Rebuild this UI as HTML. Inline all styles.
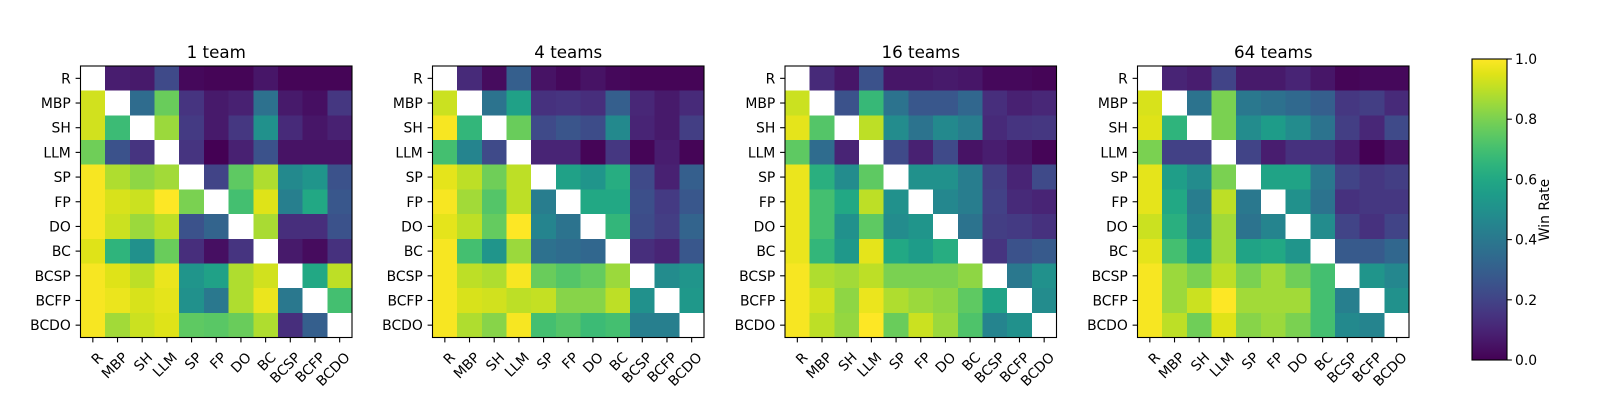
<!DOCTYPE html>
<html><head><meta charset="utf-8"><style>
html,body{margin:0;padding:0;background:#fff;}
svg{display:block;font-family:"DejaVu Sans","Liberation Sans",sans-serif;}
</style></head><body>
<svg id="fig" width="1600" height="400" viewBox="0 0 1600 400">
<defs><linearGradient id="cbgrad" x1="0" y1="1" x2="0" y2="0"></linearGradient></defs>
</svg>
<script>
const labels = ["R","MBP","SH","LLM","SP","FP","DO","BC","BCSP","BCFP","BCDO"];
const titles = ["1 team","4 teams","16 teams","64 teams"];
const cbTicks = [0.0,0.2,0.4,0.6,0.8,1.0];
const team1 = [
[null,0.08,0.07,0.22,0.02,0.01,0.01,0.06,0.01,0.01,0.01],
[0.93,null,0.35,0.77,0.15,0.07,0.09,0.37,0.07,0.04,0.16],
[0.93,0.68,null,0.85,0.17,0.07,0.16,0.50,0.12,0.06,0.09],
[0.78,0.25,0.15,null,0.15,0.00,0.09,0.25,0.05,0.05,0.05],
[0.99,0.88,0.83,0.86,null,0.20,0.75,0.88,0.47,0.52,0.25],
[0.99,0.94,0.92,1.00,0.80,null,0.70,0.95,0.43,0.60,0.27],
[0.99,0.92,0.85,0.90,0.25,0.32,null,0.87,0.13,0.13,0.25],
[0.95,0.65,0.50,0.77,0.13,0.04,0.15,null,0.07,0.03,0.14],
[0.99,0.95,0.90,0.97,0.52,0.57,0.88,0.93,null,0.60,0.90],
[0.99,0.97,0.94,0.96,0.50,0.40,0.88,0.97,0.40,null,0.70],
[0.99,0.86,0.92,0.95,0.75,0.74,0.77,0.88,0.13,0.30,null]];
const team4 = [
[null,0.12,0.03,0.30,0.05,0.02,0.05,0.02,0.01,0.01,0.01],
[0.92,null,0.38,0.57,0.14,0.15,0.13,0.30,0.11,0.07,0.12],
[0.99,0.66,null,0.77,0.22,0.26,0.23,0.47,0.10,0.07,0.18],
[0.70,0.45,0.22,null,0.10,0.10,0.01,0.16,0.01,0.08,0.01],
[0.96,0.90,0.78,0.90,null,0.57,0.52,0.62,0.22,0.09,0.30],
[0.99,0.86,0.73,0.90,0.42,null,0.60,0.60,0.24,0.17,0.27],
[0.96,0.90,0.76,1.00,0.45,0.38,null,0.66,0.23,0.18,0.32],
[0.99,0.70,0.52,0.85,0.37,0.35,0.33,null,0.13,0.10,0.27],
[0.99,0.90,0.88,0.99,0.77,0.73,0.76,0.85,null,0.48,0.52],
[0.99,0.94,0.93,0.90,0.91,0.82,0.82,0.90,0.50,null,0.53],
[0.99,0.88,0.82,0.99,0.70,0.73,0.68,0.70,0.43,0.43,null]];
const team16 = [
[null,0.12,0.06,0.25,0.06,0.06,0.07,0.06,0.02,0.02,0.01],
[0.92,null,0.25,0.67,0.38,0.27,0.27,0.33,0.13,0.09,0.11],
[0.96,0.73,null,0.90,0.48,0.38,0.47,0.42,0.12,0.15,0.16],
[0.75,0.35,0.10,null,0.22,0.09,0.22,0.05,0.08,0.05,0.01],
[0.97,0.63,0.48,0.75,null,0.50,0.50,0.42,0.18,0.10,0.22],
[0.97,0.70,0.60,0.90,0.50,null,0.46,0.42,0.19,0.12,0.10],
[0.97,0.70,0.50,0.75,0.48,0.52,null,0.38,0.18,0.17,0.14],
[0.97,0.66,0.53,0.96,0.60,0.55,0.62,null,0.15,0.25,0.28],
[0.99,0.88,0.86,0.90,0.80,0.80,0.80,0.83,null,0.40,0.50],
[0.99,0.93,0.83,0.97,0.88,0.85,0.83,0.75,0.58,null,0.48],
[0.99,0.90,0.84,1.00,0.77,0.92,0.85,0.72,0.45,0.50,null]];
const team64 = [
[null,0.10,0.08,0.20,0.07,0.07,0.10,0.06,0.01,0.02,0.02],
[0.94,null,0.38,0.80,0.40,0.37,0.34,0.30,0.16,0.18,0.12],
[0.95,0.65,null,0.80,0.48,0.55,0.48,0.38,0.18,0.11,0.22],
[0.80,0.19,0.19,null,0.20,0.08,0.14,0.14,0.08,0.00,0.05],
[0.96,0.56,0.48,0.80,null,0.58,0.58,0.40,0.20,0.16,0.18],
[0.96,0.60,0.42,0.90,0.40,null,0.50,0.38,0.14,0.16,0.16],
[0.92,0.63,0.45,0.86,0.38,0.45,null,0.48,0.20,0.14,0.20],
[0.96,0.70,0.55,0.86,0.58,0.60,0.52,null,0.28,0.28,0.33],
[0.99,0.85,0.80,0.90,0.80,0.86,0.78,0.70,null,0.52,0.46],
[0.99,0.85,0.92,1.00,0.86,0.86,0.86,0.70,0.43,null,0.50],
[0.99,0.90,0.78,0.95,0.82,0.85,0.80,0.70,0.47,0.45,null]];
const panels = [team1, team4, team16, team64];

const VIR = ["#440154","#471365","#482475","#463480","#414487","#3b528b","#355f8d","#2f6c8e","#2a788e","#25848e","#21918c","#1e9c89","#22a884","#2fb47c","#44bf70","#5ec962","#7ad151","#9bd93c","#bddf26","#dfe318","#fde725"];
function hex(h){return [parseInt(h.substr(1,2),16),parseInt(h.substr(3,2),16),parseInt(h.substr(5,2),16)];}
function viridis(v){
  v=Math.max(0,Math.min(1,v));
  const p=v*(VIR.length-1), i=Math.min(Math.floor(p),VIR.length-2), f=p-i;
  const a=hex(VIR[i]), b=hex(VIR[i+1]);
  return "rgb("+a.map((c,k)=>Math.round(c+(b[k]-c)*f)).join(",")+")";
}
const NS="http://www.w3.org/2000/svg";
const svg=document.getElementById("fig");
function mk(tag,attrs,parent){const e=document.createElementNS(NS,tag);for(const k in attrs)e.setAttribute(k,attrs[k]);(parent||svg).appendChild(e);return e;}

const panelLeft=[80.5,432.5,785,1137.5];
const top0=66, size=271.5, n=labels.length, cell=size/n;
function xScale(p,j){return panelLeft[p]+j*cell;}
function yScale(i){return top0+i*cell;}

panels.forEach((data,p)=>{
  const g=mk("g",{});
  
  
  data.forEach((row,i)=>row.forEach((v,j)=>{
    const r=mk("rect",{x:xScale(p,j),y:yScale(i),width:cell+0.3,height:cell+0.3,fill:v===null?"#ffffff":viridis(v),"shape-rendering":"crispEdges"},g);
    
    
  }));
  const L=panelLeft[p];
  const fr=mk("rect",{x:L,y:top0,width:size,height:size,fill:"none",stroke:"#000","stroke-width":1.1},g);
  
  
  const t=mk("text",{x:L+size/2,y:top0-8,"text-anchor":"middle","font-size":16.7},g);
  t.textContent=titles[p];
  
  
  labels.forEach((lab,k)=>{
    const cy=yScale(k)+cell/2, cx=xScale(p,k)+cell/2;
    mk("line",{x1:L,x2:L-4.9,y1:cy,y2:cy,stroke:"#000","stroke-width":1.1},g);
    mk("line",{x1:cx,x2:cx,y1:top0+size,y2:top0+size+4.9,stroke:"#000","stroke-width":1.1},g);
    const yl=mk("text",{x:L-9.7,y:cy+5,"text-anchor":"end","font-size":13.9},g);
    yl.textContent=lab;
    
    
    const ax=cx+4, ay=top0+size+9.7+4;
    const xl=mk("text",{x:ax,y:ay+10,"text-anchor":"end","font-size":13.9,transform:"rotate(-45 "+ax+" "+ay+")"},g);
    xl.textContent=lab;
    
    
  });
});

// colorbar
const grad=svg.querySelector("#cbgrad");
VIR.forEach((c,i)=>{mk("stop",{offset:(i/(VIR.length-1)),"stop-color":c},grad);});
const cbX=1472, cbY=59, cbW=35, cbH=301;
const cb=mk("rect",{x:cbX,y:cbY,width:cbW,height:cbH,fill:"url(#cbgrad)",stroke:"#000","stroke-width":1.1});


cbTicks.forEach(t=>{
  const y=cbY+cbH*(1-t);
  mk("line",{x1:cbX+cbW,x2:cbX+cbW+4.9,y1:y,y2:y,stroke:"#000","stroke-width":1.1});
  const tl=mk("text",{x:cbX+cbW+8,y:y+5,"font-size":13.9});
  tl.textContent=t.toFixed(1);
  
  
});
const cl=mk("text",{x:1549,y:210,"text-anchor":"middle","font-size":13.9,transform:"rotate(-90 1549 210)"});
cl.textContent="Win Rate";


</script>
</body></html>
